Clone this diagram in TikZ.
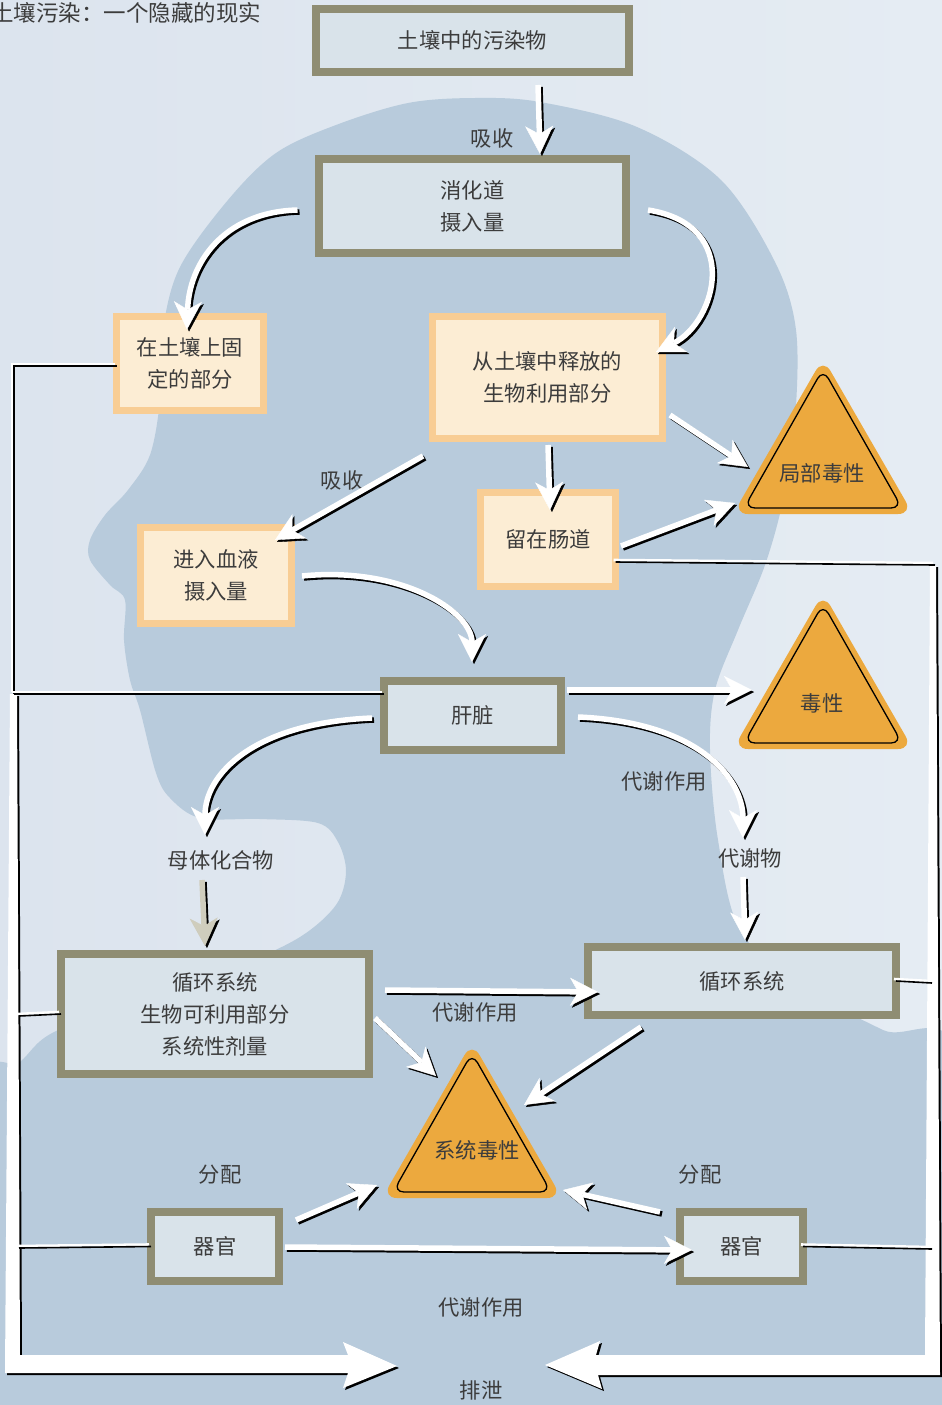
\documentclass[tikz,border=0pt]{standalone}
\usepackage{fontspec}
\setmainfont{Noto Sans CJK SC}
\usetikzlibrary{arrows.meta,calc}
\definecolor{bgL}{HTML}{DCE4EE}
\definecolor{bgR}{HTML}{E5ECF3}
\definecolor{headc}{HTML}{B8CBDC}
\definecolor{boxedge}{HTML}{8F8D73}
\definecolor{boxfill}{HTML}{D9E3EA}
\definecolor{orgedge}{HTML}{F8CD94}
\definecolor{orgfill}{HTML}{FCEDD4}
\definecolor{tri}{HTML}{ECA93E}
\definecolor{txt}{HTML}{3C3C3C}
\definecolor{greyarrow}{HTML}{CFCDBD}
\tikzset{
  every node/.style={text=txt, font=\fontsize{21.3}{32}\selectfont, inner sep=0pt, outer sep=0pt, align=center},
  gbox/.style={draw=boxedge, line width=8pt, fill=boxfill, rectangle},
  obox/.style={draw=orgedge, line width=7pt, fill=orgfill, rectangle},
  flow/.style={draw=white, line width=5.5pt,
    -{Stealth[length=28pt,width=28pt,inset=8pt,line width=0.4pt]},
    preaction={draw=black, line width=5.5pt,
      -{Stealth[length=28pt,width=28pt,inset=8pt,line width=0.4pt]},
      transform canvas={shift={(2pt,-2pt)}}}},
  flowgrey/.style={flow, draw=greyarrow},
  thinlink/.style={draw=black, line width=1.6pt,
    preaction={draw=white, line width=2.6pt, transform canvas={shift={(-2pt,2pt)}}}},
  hazard/.pic={
    \fill[tri, rounded corners=15pt] (0,0) -- (90,156) -- (-90,156) -- cycle;
    \draw[black, line width=1.3pt, rounded corners=11pt] (0,11) -- (79,150) -- (-79,150) -- cycle;
  }
}
\begin{document}
\begin{tikzpicture}[x=1pt,y=-1pt]
\useasboundingbox (0,0) rectangle (942,1405);
% background and head silhouette
\shade[left color=bgL, right color=bgR] (0,0) rectangle (942,1405);
\fill[headc] plot[smooth cycle, tension=0.55] coordinates {
  (540,102) (637,127) (721,180) (775,262) (796,330) (795,420) (783,500)
  (765,565) (738,630) (715,690) (710,750) (718,840) (740,930) (800,985)
  (883,1030) (960,1062) (965,1420) (-20,1420) (-20,1095) (20,1062)
  (54,1032) (150,995) (240,965) (300,937) (336,905) (346,872) (338,842)
  (318,823) (260,819) (200,818) (170,798) (156,773) (140,710) (130,680)
  (124,640) (125,600) (110,585) (90,560) (90,540) (105,515) (128,490)
  (150,455) (160,400) (163,330) (180,267) (228,200) (276,153) (336,125)
  (408,103) (475,98)};

% title
\node[anchor=west, font=\fontsize{22.5}{26}\selectfont] (title) at (-9,13) {土壤污染：一个隐藏的现实};

% excretion bands (drawn before the boxes)
\coordinate (exL) at (397,1366);
\coordinate (exR) at (545,1365);
\fill[black] (12,696) -- (19,696) -- (22,1357) -- (350,1357) -- (345,1344) -- (399,1368) -- (345,1390) -- (350,1375) -- (7,1375) -- cycle;
\fill[white] (10,694) -- (17,694) -- (20,1355) -- (348,1355) -- (343,1342) -- (exL) -- (343,1388) -- (348,1373) -- (5,1373) -- cycle;
\fill[black] (932,567) -- (938,567) -- (942,1377) -- (600,1377) -- (604,1391) -- (547,1367) -- (602,1343) -- (598,1357) -- (927,1357) -- cycle;
\fill[white] (930,565) -- (936,565) -- (940,1375) -- (598,1375) -- (602,1389) -- (exR) -- (600,1341) -- (596,1355) -- (925,1355) -- cycle;

% boxes
\node[gbox, minimum width=313, minimum height=63] (soil) at (472.5,40.5) {土壤中的污染物};
\node[gbox, minimum width=307, minimum height=94] (gut) at (472.5,206) {消化道\\摄入量};
\node[obox, minimum width=147, minimum height=94] (fixed) at (190,363.5) {在土壤上固\\定的部分};
\node[obox, minimum width=230, minimum height=122] (rel) at (547.5,377.5) {从土壤中释放的\\生物利用部分};
\node[obox, minimum width=135, minimum height=94] (stay) at (548,539.5) {留在肠道};
\node[obox, minimum width=151, minimum height=96] (blood) at (216,575.5) {进入血液\\摄入量};
\node[gbox, minimum width=177, minimum height=69] (liver) at (472.5,715.5) {肝脏};
\node[gbox, minimum width=308, minimum height=120] (circL) at (215,1014) {循环系统\\生物可利用部分\\系统性剂量};
\node[gbox, minimum width=308, minimum height=68] (circR) at (742,981) {循环系统};
\node[gbox, minimum width=128, minimum height=69] (orgL) at (215,1246.5) {器官};
\node[gbox, minimum width=123, minimum height=69] (orgR) at (741.5,1246.5) {器官};

% thin links to the excretion bands
\coordinate (cL1) at (14,366);
\coordinate (cL2) at (14,694);
\coordinate (cR1) at (935,565);
\draw[thinlink] ($(fixed.west)+(0,2.5)$) -- (cL1) -- (cL2);
\draw[thinlink] ($(liver.west)+(0,-21.5)$) -- (cL2);
\draw[thinlink] ($(stay.east)+(0,22.5)$) -- (cR1);
\draw[thinlink] (circL.west) -- (19,1016);
\draw[thinlink] (orgL.west) -- (19,1248);
\draw[thinlink] (circR.east) -- (932,983);
\draw[thinlink] (orgR.east) -- (932,1249);

% hazard triangles
\pic at (823,358) {hazard};
\pic at (823,593) {hazard};
\pic at (472,1042) {hazard};
\node (local) at (822,473) {局部毒性};
\node (tox) at (822,703) {毒性};
\node (systox) at (477,1150) {系统毒性};

% labels
\node (ab1) at (492,138) {吸收};
\node (ab2) at (342,480) {吸收};
\node (met1) at (664,781) {代谢作用};
\node (parent) at (221,860) {母体化合物};
\node (metab) at (750,858) {代谢物};
\node (met2) at (475,1012) {代谢作用};
\node (dist1) at (220,1175) {分配};
\node (dist2) at (700,1175) {分配};
\node (met3) at (481,1307) {代谢作用};
\node (excr) at (481,1390) {排泄};

% flow arrows
\draw[flow] ($(soil)+(65.5,44.5)$) -- ($(gut)+(67.5,-52)$);
\draw[flow] ($(gut)+(-175,4)$) .. controls +(-75,2) and +(2,-65) .. ($(fixed)+(-3,-34)$);
\draw[flow] ($(gut)+(175.5,4)$) .. controls +(95,15) and +(60,-30) .. ($(rel)+(108.5,-25.5)$);
\draw[flow] ($(rel)+(-124.5,78.5)$) -- ($(blood)+(59,-35.5)$);
\draw[flow] ($(rel)+(0.5,67.5)$) -- ($(stay)+(2,-29.5)$);
\draw[flow] ($(rel)+(122.5,37.5)$) -- ($(local)+(-74,-6)$);
\draw[flow] ($(stay)+(73,6.5)$) -- ($(local)+(-87,30)$);
\draw[flow] ($(blood)+(86,0.5)$) .. controls +(100,-10) and +(0,-50) .. ($(liver)+(-0.5,-53.5)$);
\draw[flow] ($(liver)+(94.5,-25.5)$) -- ($(tox)+(-70,-13)$);
\draw[flow] ($(liver)+(-100.5,2.5)$) .. controls +(-120,5) and +(0,-60) .. ($(parent)+(-16,-25)$);
\draw[flow] ($(liver)+(105.5,1.5)$) .. controls +(120,5) and +(0,-60) .. ($(metab)+(-7,-20)$);
\draw[flowgrey] ($(parent)+(-19,20)$) -- ($(circL)+(-10,-68)$);
\draw[flow] ($(metab)+(-7,19)$) -- ($(circR)+(3,-41)$);
\draw[flow] ($(circL)+(170,-24)$) -- ($(circR)+(-144,11)$);
\draw[flow] ($(circL)+(160,4)$) -- ($(systox)+(-41,-74)$);
\draw[flow] ($(circR)+(-101,46)$) -- ($(systox)+(47,-45)$);
\draw[flow] ($(orgL)+(81,-26.5)$) -- ($(systox)+(-100,35)$);
\draw[flow] ($(orgR)+(-81.5,-34.5)$) -- ($(systox)+(86,40)$);
\draw[flow] ($(orgL)+(70,0.5)$) -- ($(orgR)+(-49.5,3.5)$);
\end{tikzpicture}
\end{document}
